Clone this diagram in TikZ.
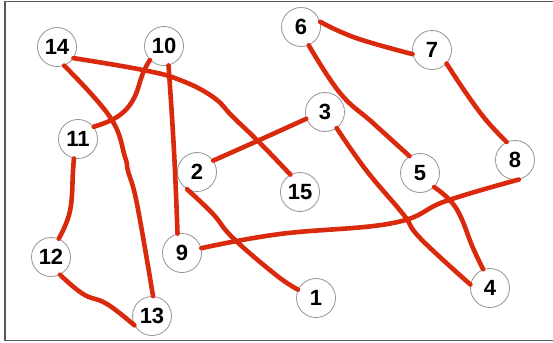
\documentclass[tikz,border=0pt]{standalone}
\usepackage{fontspec}
\setmainfont{Liberation Sans}
\definecolor{edgered}{RGB}{218,42,14}
\begin{document}
\begin{tikzpicture}[x=1pt,y=-1pt,
  vert/.style={circle,draw=gray!85,line width=0.8pt,minimum size=39pt,inner sep=0pt,font=\fontsize{22}{22}\selectfont\bfseries},
  link/.style={draw=edgered,line width=4.6pt,line cap=round,line join=round}]
\useasboundingbox (0,0) rectangle (553,342);
\draw[gray!70!black,line width=1.6pt] (556,1.5) -- (5,1.5) -- (5,340.5) -- (556,340.5);
\node[vert] (n1) at (316,298) {1};
\node[vert] (n2) at (197,172) {2};
\node[vert] (n3) at (325,112) {3};
\node[vert] (n4) at (490,288) {4};
\node[vert] (n5) at (420,173) {5};
\node[vert] (n6) at (301,27) {6};
\node[vert] (n7) at (432,50) {7};
\node[vert] (n8) at (515,160) {8};
\node[vert] (n9) at (182,253) {9};
\node[vert] (n10) at (164,46) {10};
\node[vert] (n11) at (78,139) {11};
\node[vert] (n12) at (51,257) {12};
\node[vert] (n13) at (152,316) {13};
\node[vert] (n14) at (57,47) {14};
\node[vert] (n15) at (300,192) {15};
\draw[link] plot[smooth,tension=0.7] coordinates {(n14.-34) (143,70) (180,80) (213,97) (233,117) (260,143) (n15.119)};
\draw[link] plot[smooth,tension=0.7] coordinates {(n14.-69) (110,117) (125,157) (128,171) (137,204) (n13.87)};
\draw[link] plot[smooth,tension=0.7] coordinates {(n10.-135) (143,73) (133,100) (117,117) (n11.38)};
\draw[link] plot[smooth,tension=0.7] coordinates {(n10.-77) (172,117) (175,171) (n9.103)};
\draw[link] plot[smooth,tension=0.7] coordinates {(n11.-102) (73,171) (70,211) (n12.67)};
\draw[link] plot[smooth,tension=0.7] coordinates {(n12.-63) (83,294) (107,304) (n13.-152)};
\draw[link] plot[smooth,tension=0.7] coordinates {(n2.35) (255,142) (n3.-160)};
\draw[link] plot[smooth,tension=0.7] coordinates {(n2.-120) (213,214) (233,238) (276,275) (n1.155)};
\draw[link] plot[smooth,tension=0.7] coordinates {(n9.14) (280,234) (393,223) (446,201) (n8.-79)};
\draw[link] plot[smooth,tension=0.7] coordinates {(n3.-54) (366,170) (403,214) (420,238) (n4.170)};
\draw[link] plot[smooth,tension=0.7] coordinates {(n6.-67) (340,93) (373,123) (n5.122)};
\draw[link] plot[smooth,tension=0.7] coordinates {(n6.15) (356,38) (n7.-168)};
\draw[link] plot[smooth,tension=0.7] coordinates {(n7.-43) (466,93) (486,120) (n8.115)};
\draw[link] plot[smooth,tension=0.7] coordinates {(n5.-45) (456,208) (473,248) (n4.110)};
\end{tikzpicture}
\end{document}
